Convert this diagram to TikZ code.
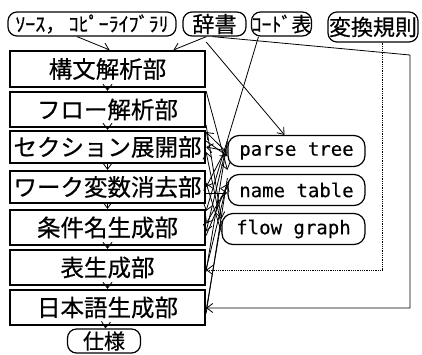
\documentclass[tikz,border=0pt]{standalone}
\usepackage{fontspec}
\newfontfamily\jp[FakeBold=0.5]{Noto Sans CJK JP}
\newfontfamily\mono[FakeBold=0.3]{DejaVu Sans Mono}
\usetikzlibrary{arrows.meta}
\begin{document}
\begin{tikzpicture}[x=1pt,y=-1pt,
  >={Straight Barb[length=6pt,width=9pt]},
  stage/.style={draw,line width=2.2pt,minimum width=195pt,inner sep=0pt,font=\jp\fontsize{23.5}{23.5}\selectfont},
  store/.style={draw,line width=1.2pt,rounded corners=9pt,inner sep=0pt,font=\jp\fontsize{20}{20}\selectfont},
  data/.style={draw,line width=1.2pt,rounded corners=11pt,inner sep=0pt,minimum height=31pt,font=\mono\fontsize{19}{19}\selectfont},
  conn/.style={line width=0.8pt}]
\useasboundingbox (0,0) rectangle (422,354);
% top stores
\node[store,minimum width=168pt,minimum height=24pt] (src) at (92,24) {ｿｰｽ，\,ｺﾋﾟｰﾗｲﾌﾞﾗﾘ};
\node[store,minimum width=63pt,minimum height=24pt,font=\jp\fontsize{22}{22}\selectfont] (dict) at (214.5,24) {辞書};
\node[store,minimum width=59pt,minimum height=24pt] (code) at (281.5,24) {ｺｰﾄﾞ表};
\node[store,minimum width=90pt,minimum height=30pt,font=\jp\fontsize{22}{22}\selectfont] (rule) at (373,27) {変換規則};
% stages
\node[stage,minimum height=36pt] (b1) at (107.5,69) {構文解析部};
\node[stage,minimum height=35pt] (b2) at (107.5,109.5) {フロー解析部};
\node[stage,minimum height=32pt] (b3) at (107.5,147) {セクション展開部};
\node[stage,minimum height=32pt] (b4) at (107.5,187) {ワーク変数消去部};
\node[stage,minimum height=35pt] (b5) at (107.5,227.5) {条件名生成部};
\node[stage,minimum height=35pt] (b6) at (107.5,267.5) {表生成部};
\node[stage,minimum height=35pt] (b7) at (107.5,307.5) {日本語生成部};
\node[store,minimum width=73pt,minimum height=24pt,font=\jp\fontsize{21}{21}\selectfont] (spec) at (104,341) {仕様};
% data
\node[data,minimum width=137pt] (pt) at (296.5,151) {parse tree};
\node[data,minimum width=137pt] (nt) at (296.5,190) {name table};
\node[data,minimum width=143pt] (fg) at (293.5,229) {flow graph};
% vertical flow
\draw[conn,->] (src.south) ++(-15,0) -- ([xshift=2pt]b1.north);
\draw[conn,->] (dict.south) ++(-8,0) -- ([xshift=66pt]b1.north);
\draw[conn,->] (b1) -- (b2);
\draw[conn,->] (b2) -- (b3);
\draw[conn,->] (b3) -- (b4);
\draw[conn,->] (b4) -- (b5);
\draw[conn,->] (b5) -- (b6);
\draw[conn,->] (b6) -- (b7);
\draw[conn,->] (b7) -- (spec);
% long routes
\coordinate (dk1) at (410,55);
\coordinate (dk2) at (410,308);
\draw[conn,->] (dict.south) ++(-2,0) -- (dk1) -- (dk2) -- (b7.east |- dk2);
\coordinate (rl1) at (382,270);
\draw[conn,densely dotted,->] (rule.south) ++(9,0) -- (rl1) -- (b6.east |- rl1);
\draw[conn,->] (code.south) ++(-23,0) -- ([yshift=-2pt]b5.north east);
% b1 outputs
\draw[conn,->] ([yshift=8pt]b1.north east) -- ([xshift=-12pt]pt.north);
\draw[conn,->] ([yshift=-3pt]b1.south east) -- ([yshift=4pt]nt.north west);
% bundle
\draw[conn,->] ([yshift=-2pt]pt.west) -- ([yshift=-4pt]b2.south east);
\draw[conn,->] ([yshift=3pt]b2.south east) -- ([yshift=-6pt]fg.north west);
\draw[conn,->] (pt.west) -- (b3.east);
\draw[conn,->] ([yshift=3pt]fg.west) -- ([yshift=-5pt]b3.east);
\draw[conn,->] ([yshift=6pt]b3.east) -- ([yshift=-5pt]pt.west);
\draw[conn,->] ([yshift=5pt]pt.west) -- (b4.east);
\draw[conn,->] ([yshift=-3pt]fg.west) -- ([yshift=4pt]b4.east);
\draw[conn,->] ([yshift=-6pt]b4.east) -- ([yshift=-3pt]nt.west);
\draw[conn,->] ([yshift=8pt]pt.west) -- ([yshift=-4pt]b5.east);
\draw[conn,->] ([yshift=3pt]nt.west) -- ([yshift=4pt]b5.east);
\draw[conn,->] ([yshift=-8pt]b5.east) -- ([yshift=6pt]nt.west);
\draw[conn] ([yshift=10pt]pt.west) -- ([yshift=-4pt]b6.east);
\draw[conn] ([yshift=8pt]nt.west) -- ([yshift=-2pt]b6.east);
\draw[conn] ([yshift=12pt]nt.west) -- ([yshift=-6pt]b7.east);
\draw[conn] ([yshift=8pt]fg.west) -- ([yshift=-3pt]b7.east);
\end{tikzpicture}
\end{document}
